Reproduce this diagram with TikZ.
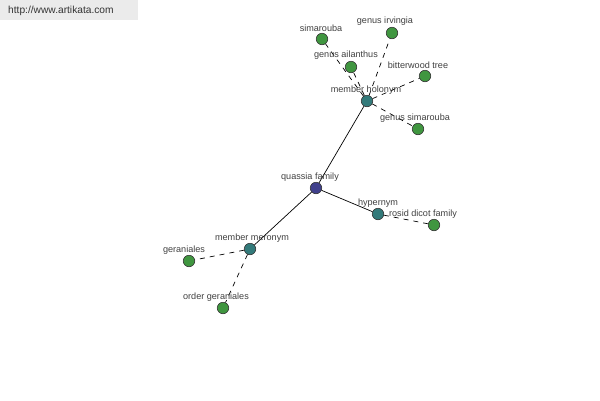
\documentclass[tikz,border=0pt]{standalone}
\usepackage{fontspec}
\setmainfont{Liberation Sans}
\begin{document}
\begin{tikzpicture}[x=1pt,y=-1pt,
  dot/.style={circle,draw=black!80,line width=0.6pt,minimum size=11.5pt,inner sep=0pt},
  rel/.style={dot,fill=teal!70!black!80},
  leaf/.style={dot,fill=green!45!black!75},
  root/.style={dot,fill=blue!40!black!75},
  lbl/.style={font=\fontsize{9.1}{10}\selectfont,text=black!75,inner sep=0pt},
  solidedge/.style={draw=black,line width=0.7pt},
  dashedge/.style={draw=black,line width=0.7pt,dash pattern=on 5pt off 5pt}]
\useasboundingbox (0,0) rectangle (600,400);
\fill[black!8] (0,0) rectangle (138,20);
\node[anchor=west,font=\fontsize{10.2}{12}\selectfont,text=black!80,inner sep=0pt] (url) at (8,11) {http://www.artikata.com};
% nodes
\node[root] (qf) at (316,188) {};
\node[rel] (mh) at (367,101) {};
\node[rel] (hy) at (378,214) {};
\node[rel] (mm) at (250,249) {};
\node[leaf] (sim) at (322,39) {};
\node[leaf] (gi) at (392,33) {};
\node[leaf] (ga) at (351,67) {};
\node[leaf] (bt) at (425,76) {};
\node[leaf] (gs) at (418,129) {};
\node[leaf] (rdf) at (434,225) {};
\node[leaf] (ger) at (189,261) {};
\node[leaf] (og) at (223,308) {};
% edges
\path[solidedge] (qf) -- (mh) (qf) -- (hy) (qf) -- (mm);
\path[dashedge] (mh) -- (sim) (mh) -- (gi) (mh) -- (ga) (mh) -- (bt) (mh) -- (gs)
  (hy) -- (rdf) (mm) -- (ger) (mm) -- (og);
% labels
\node[lbl] (l1) at (321,28) {simarouba};
\node[lbl] (l2) at (385,21) {genus irvingia};
\node[lbl] (l3) at (346,55) {genus ailanthus};
\node[lbl] (l4) at (418,65) {bitterwood tree};
\node[lbl] (l5) at (366,90) {member holonym};
\node[lbl] (l6) at (415,118) {genus simarouba};
\node[lbl] (l7) at (310,177) {quassia family};
\node[lbl] (l8) at (378,203) {hypernym};
\node[lbl] (l9) at (423,214) {rosid dicot family};
\node[lbl] (l10) at (252,238) {member meronym};
\node[lbl] (l11) at (184,250) {geraniales};
\node[lbl] (l12) at (216,297) {order geraniales};
\end{tikzpicture}
\end{document}
